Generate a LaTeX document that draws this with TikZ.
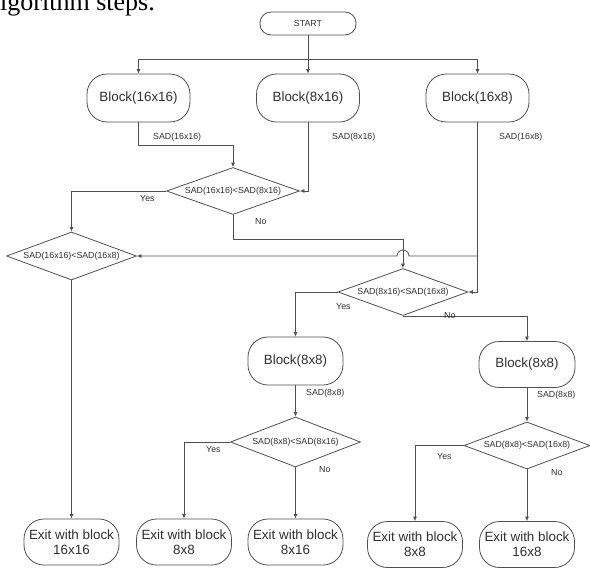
\documentclass[tikz,border=0pt]{standalone}
\usepackage{fontspec}
\setmainfont{Liberation Sans}
\newfontfamily\headserif{Liberation Serif}
\usetikzlibrary{shapes.geometric,arrows.meta}
\definecolor{linegray}{HTML}{505050}
\definecolor{textgray}{HTML}{303030}
\tikzset{
  blockbox/.style={draw=linegray, line width=0.8pt, rounded corners=20pt, minimum width=103pt, minimum height=48pt, inner sep=0pt, font=\fontsize{13.4}{15}\selectfont, text=textgray, align=center},
  exitbox/.style={blockbox, minimum width=95pt, minimum height=46pt},
  startbox/.style={blockbox, rounded corners=11pt, minimum width=96pt, minimum height=23pt, font=\fontsize{8.8}{10}\selectfont},
  decision/.style={diamond, draw=linegray, line width=0.8pt, aspect=2.8, inner sep=0pt, minimum width=130pt, minimum height=47pt, font=\fontsize{8.8}{10}\selectfont, text=textgray},
  lbl/.style={anchor=west, inner sep=0pt, font=\fontsize{8.8}{10}\selectfont, text=textgray},
  arr/.style={draw=linegray, line width=0.8pt, -{Latex[length=4.5pt,width=4pt]}},
  wire/.style={draw=linegray, line width=0.8pt}
}
\begin{document}
\begin{tikzpicture}[x=1pt, y=-1pt]
\useasboundingbox (0,0) rectangle (590,568);
\clip (0,0) rectangle (590,568);

% Caption line cut at the top
\node[anchor=base west, inner sep=0pt, font=\fontsize{26}{30}\selectfont\headserif] (heading) at (-11.5,10) {algorithm steps.};

% Start and first blocks
\node[startbox] (start) at (308,23.5) {START};
\node[blockbox] (b16x16) at (138.5,98) {Block(16x16)};
\node[blockbox] (b8x16) at (308,98) {Block(8x16)};
\node[blockbox] (b16x8) at (477.5,98) {Block(16x8)};

% Decisions
\node[decision, minimum width=133pt] (d1) at (233,191) {SAD(16x16)<SAD(8x16)};
\node[decision, minimum height=48pt] (d2) at (71.5,256) {SAD(16x16)<SAD(16x8)};
\node[decision] (d3) at (403,292) {SAD(8x16)<SAD(16x8)};
\node[decision, minimum height=50pt] (d4) at (295.5,442) {SAD(8x8)<SAD(8x16)};
\node[decision, minimum width=126pt] (d5) at (527,445.5) {SAD(8x8)<SAD(16x8)};

% Second blocks
\node[blockbox, minimum width=95pt] (b8x8a) at (295.5,361) {Block(8x8)};
\node[blockbox, minimum width=96pt, minimum height=46pt] (b8x8b) at (527,364.5) {Block(8x8)};

% Exits
\node[exitbox] (e1) at (71.5,542) {Exit with block\\16x16};
\node[exitbox] (e2) at (184,542) {Exit with block\\8x8};
\node[exitbox] (e3) at (295.5,542) {Exit with block\\8x16};
\node[exitbox] (e4) at (415,544.5) {Exit with block\\8x8};
\node[exitbox] (e5) at (527,544.5) {Exit with block\\16x8};

% Connectors from start
\coordinate (split) at (308,59);
\draw[arr] (start) -- (b8x16);
\draw[arr] (split) -| (b16x16.north);
\draw[arr] (split) -| (b16x8.north);

% Into first decision
\coordinate (k1) at (138.5,145);
\draw[arr] (b16x16.south) -- (k1) -| (d1.north);
\draw[arr] (b8x16.south) |- (d1.east);
\node[lbl] (s1) at (153,137) {SAD(16x16)};
\node[lbl] (s2) at (332,137) {SAD(8x16)};
\node[lbl] (s3) at (499,137) {SAD(16x8)};

% First decision outcomes
\draw[arr] (d1.west) -| (d2.north);
\node[lbl] (y1) at (140,199) {Yes};
\coordinate (k2) at (403,239);
\draw[arr] (d1.south) |- (k2) -- (d3.north);
\node[lbl] (n1) at (255,222) {No};

% Block(16x8) to second and third decision, hop over the No line
\coordinate (tee) at (477.5,256);
\draw[arr] (b16x8.south) |- (d3.east);
\draw[arr] (tee) -- (409,256) arc[start angle=0, end angle=180, radius=6pt] -- (d2.east);

% Second decision
\draw[arr] (d2.south) -- (e1.north);

% Third decision outcomes
\draw[arr] (d3.west) -| (b8x8a.north);
\node[lbl] (y3) at (336,307) {Yes};
\draw[arr] (d3.south) -| (b8x8b.north);
\node[lbl] (n3) at (444,316) {No};

% Block(8x8) to decisions
\draw[arr] (b8x8a) -- (d4);
\node[lbl] (s4) at (306,393) {SAD(8x8)};
\draw[arr] (b8x8b) -- (d5);
\node[lbl] (s5) at (537,395) {SAD(8x8)};

% Last decisions to exits
\draw[arr] (d4.west) -| (e2.north);
\node[lbl] (y4) at (206,450) {Yes};
\draw[arr] (d4.south) -- (e3.north);
\node[lbl] (n4) at (319,470) {No};
\draw[arr] (d5.west) -| (e4.north);
\node[lbl] (y5) at (437,457) {Yes};
\draw[arr] (d5.south) -- (e5.north);
\node[lbl] (n5) at (551,473) {No};

\end{tikzpicture}
\end{document}
